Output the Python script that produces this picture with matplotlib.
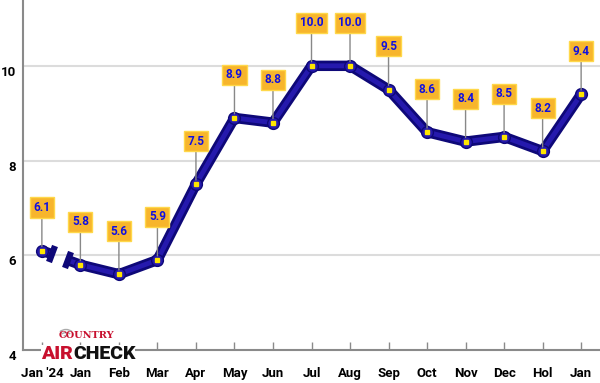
import matplotlib
matplotlib.use("Agg")
import matplotlib.pyplot as plt
from matplotlib.markers import MarkerStyle
from matplotlib.patches import Arc
from matplotlib.transforms import Affine2D
import numpy as np

months = ["Jan '24", "Jan", "Feb", "Mar", "Apr", "May", "Jun", "Jul",
          "Aug", "Sep", "Oct", "Nov", "Dec", "Hol", "Jan"]
values = [6.1, 5.8, 5.6, 5.9, 7.5, 8.9, 8.8, 10.0, 10.0, 9.5, 8.6, 8.4, 8.5, 8.2, 9.4]
y_ticks = [4, 6, 8, 10]

FONT = "Roboto"
LINE_DARK = "#0e0878"
LINE_MID = "#2519ad"

fig = plt.figure(figsize=(6, 3.83), dpi=100)
ax = fig.add_axes([23 / 600, 33 / 383, 577 / 600, 350 / 383])
x = np.arange(len(values))
ax.set_xlim(-0.49, len(values) - 0.51)
ax.set_ylim(4, 11.39)

# grid
for t in y_ticks[1:]:
    ax.axhline(t, color="#dcdcdc", lw=1.5, zorder=0)

# broken first segment
x0, y0, x1, y1 = x[0], values[0], x[1], values[1]
fa, fb = 0.27, 0.68
seg1 = ([x0, x0 + fa * (x1 - x0)], [y0, y0 + fa * (y1 - y0)])
seg2 = ([x0 + fb * (x1 - x0)] + list(x[1:]), [y0 + fb * (y1 - y0)] + values[1:])
for xs, ys in (seg1, seg2):
    ax.plot(xs, ys, color=LINE_DARK, lw=7.5, solid_capstyle="butt",
            solid_joinstyle="round", zorder=3)
    ax.plot(xs, ys, color=LINE_MID, lw=3.5, solid_capstyle="butt",
            solid_joinstyle="round", zorder=3)

# break caps perpendicular to the segment
fig.canvas.draw()
p0 = ax.transData.transform((x0, y0))
p1 = ax.transData.transform((x1, y1))
ang = np.degrees(np.arctan2(p1[1] - p0[1], p1[0] - p0[0]))
cap = MarkerStyle("|", transform=Affine2D().rotate_deg(ang))
ax.plot([seg1[0][1], seg2[0][0]], [seg1[1][1], seg2[1][0]], ls="none",
        marker=cap, ms=13, mew=4.5, mec=LINE_DARK, zorder=4)

# point markers
ax.plot(x, values, ls="none", marker="o", ms=8.5, mfc=LINE_MID,
        mec=LINE_DARK, mew=1, zorder=4)
ax.plot(x, values, ls="none", marker="s", ms=3.2, mfc="#ffe600",
        mec="#ffe600", zorder=5)

# value labels
for xi, v in zip(x, values):
    ax.annotate(f"{v:.1f}", (xi, v), xytext=(0, 31), textcoords="offset points",
                ha="center", va="center", fontsize=8.5, fontweight="bold",
                family=FONT, color="#1010e0",
                bbox=dict(boxstyle="square,pad=0.3", fc="#f7b52c", ec="#ffd84a", lw=1),
                arrowprops=dict(arrowstyle="-", color="#888888", lw=1,
                                shrinkA=0, shrinkB=3),
                zorder=6)

# axes styling
for s in ("top", "right"):
    ax.spines[s].set_visible(False)
for s in ("left", "bottom"):
    ax.spines[s].set_color("#8a8a8a")
    ax.spines[s].set_linewidth(1.5)

ax.set_xticks(x)
ax.set_xticklabels(months, fontfamily=FONT, fontweight="bold", fontsize=9.5)
ax.tick_params(axis="x", direction="in", length=6, width=1, color="#8a8a8a", pad=12)
ax.set_yticks(y_ticks)
ax.set_yticklabels([str(t) for t in y_ticks], fontfamily=FONT,
                   fontweight="bold", fontsize=9.5)
ax.tick_params(axis="y", length=0, pad=5)
for lab in ax.get_yticklabels():
    lab.set_va("top")

# logo
fig.text(86 / 600, 1 - 336 / 383, "COUNTRY", color="#c8102e", fontsize=7,
         fontweight="bold", family="DejaVu Serif", ha="center", va="center", zorder=10)
air = fig.text(41 / 600, 1 - 354 / 383, "AIR", color="#c8102e", fontsize=14,
               fontweight="black", family=FONT, ha="left", va="center", zorder=10,
               bbox=dict(fc="white", ec="none", pad=0))
fig.canvas.draw()
air_right = air.get_window_extent().x1 / 600
fig.text(air_right, 1 - 354 / 383, "CHECK", color="#111111", fontsize=14,
         fontweight="black", family=FONT, ha="left", va="center", zorder=10,
         bbox=dict(fc="white", ec="none", pad=0))
for r in (0.035, 0.065, 0.095):
    fig.add_artist(Arc((66 / 100, (383 - 339) / 100), 2 * r, 2 * r, theta1=50,
                       theta2=130, transform=fig.dpi_scale_trans,
                       color="#aaaaaa", lw=1))

fig.savefig("out.png", dpi=100)
